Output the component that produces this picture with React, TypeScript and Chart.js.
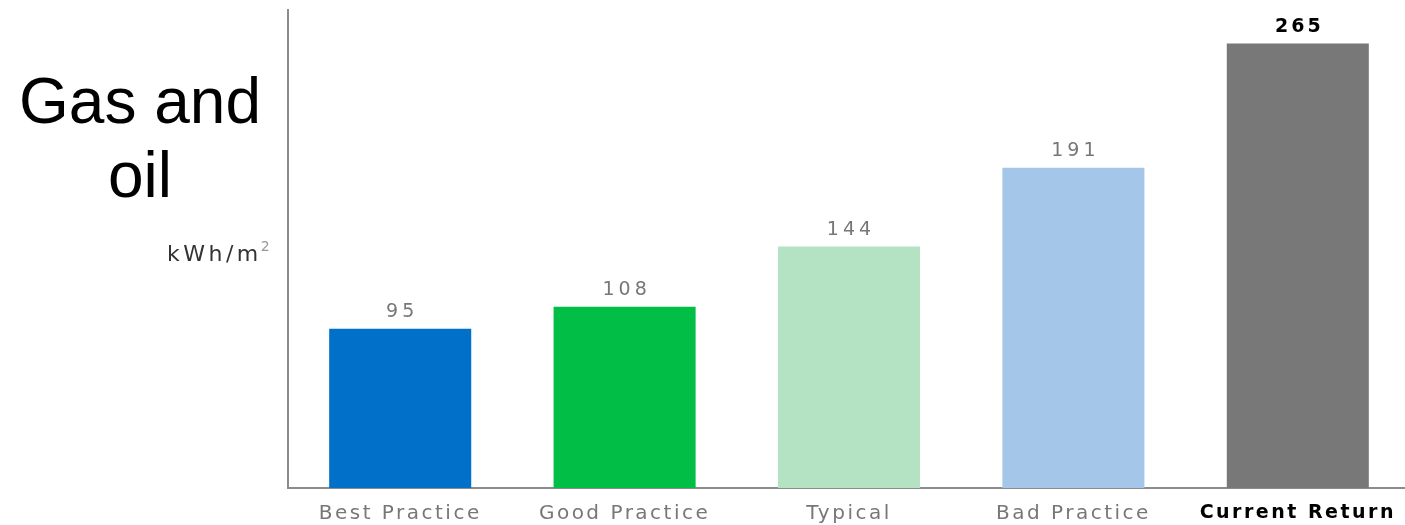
import React, { useEffect, useRef } from "react";
import { Chart, registerables } from "chart.js";

Chart.register(...registerables);

const categories = ["Best Practice", "Good Practice", "Typical", "Bad Practice", "Current Return"];
const values = [95, 108, 144, 191, 265];
const barColors = ["#0070c8", "#00be46", "#b3e3c2", "#a4c6e8", "#787878"];
const titleLines = ["Gas and", "oil"];
const unitLabel = "kWh/m";
const unitSup = "2";
const yMin = 0;
const yMax = 285;

export default function App() {
  const ref = useRef<HTMLCanvasElement>(null);

  useEffect(() => {
    document.body.style.margin = "0";
    const canvas = ref.current!;
    const lastIdx = values.length - 1;

    const labelsPlugin = {
      id: "customLabels",
      beforeDraw(chart: any) {
        (chart.ctx as any).letterSpacing = "2.5px";
      },
      afterDatasetsDraw(chart: any) {
        const ctx = chart.ctx as any;
        const meta = chart.getDatasetMeta(0);
        ctx.save();
        ctx.textAlign = "center";
        ctx.textBaseline = "bottom";
        meta.data.forEach((el: any, i: number) => {
          const last = i === lastIdx;
          const sp = last ? 3 : 4;
          ctx.font = `${last ? "bold " : ""}19px "DejaVu Sans"`;
          ctx.letterSpacing = sp + "px";
          ctx.fillStyle = last ? "#000000" : "#777777";
          ctx.fillText(String(values[i]), el.x + sp / 2, el.y - 7);
        });
        ctx.restore();
      },
      afterDraw(chart: any) {
        const ctx = chart.ctx as any;
        ctx.save();
        ctx.letterSpacing = "0px";
        ctx.textAlign = "center";
        ctx.textBaseline = "alphabetic";
        ctx.fillStyle = "#000000";
        ctx.font = '64px "Liberation Sans", Arial, sans-serif';
        ctx.fillText(titleLines[0], 140, 123);
        ctx.fillText(titleLines[1], 140, 197);

        // unit label
        ctx.textAlign = "left";
        ctx.font = '22px "DejaVu Sans"';
        ctx.letterSpacing = "3.5px";
        ctx.fillStyle = "#333333";
        ctx.fillText(unitLabel, 167, 261);
        const w = ctx.measureText(unitLabel).width;
        ctx.font = '14px "DejaVu Sans"';
        ctx.letterSpacing = "0px";
        ctx.fillStyle = "#999999";
        ctx.fillText(unitSup, 167 + w - 1, 251);
        ctx.restore();
      },
    };

    const chart = new Chart(canvas, {
      type: "bar",
      data: {
        labels: categories,
        datasets: [
          {
            data: values,
            backgroundColor: barColors,
            borderWidth: 0,
            barPercentage: 0.633,
            categoryPercentage: 1,
          },
        ],
      },
      options: {
        responsive: false,
        animation: false,
        devicePixelRatio: 1,
        layout: { padding: { top: 10, left: 0, right: 0, bottom: 0 } },
        plugins: {
          legend: { display: false },
          tooltip: { enabled: false },
          title: { display: false },
        },
        scales: {
          x: {
            offset: true,
            grid: { display: false, drawTicks: false, tickLength: 0 },
            border: { display: true, color: "#8c8c8c", width: 2 },
            ticks: {
              autoSkip: false,
              maxRotation: 0,
              minRotation: 0,
              padding: 14,
              color: (c: any) => (c.index === lastIdx ? "#000000" : "#777777"),
              font: (c: any) =>
                c.index === lastIdx
                  ? { family: '"DejaVu Sans"', size: 19, weight: "bold" }
                  : { family: '"DejaVu Sans"', size: 20, weight: "normal" },
            },
            afterFit: (s: any) => {
              s.height = 37;
            },
          },
          y: {
            min: yMin,
            max: yMax,
            grid: { display: false, drawTicks: false, tickLength: 0 },
            border: { display: true, color: "#8c8c8c", width: 2 },
            ticks: { display: false },
            afterFit: (s: any) => {
              s.width = 288;
            },
          },
        },
      },
      plugins: [labelsPlugin],
    });

    return () => chart.destroy();
  }, []);

  return (
    <div style={{ position: "fixed", left: 0, top: 0, width: 1405, height: 525, overflow: "hidden", background: "#ffffff" }}>
      <canvas ref={ref} width={1410} height={525} style={{ width: 1410, height: 525, display: "block" }} />
    </div>
  );
}
